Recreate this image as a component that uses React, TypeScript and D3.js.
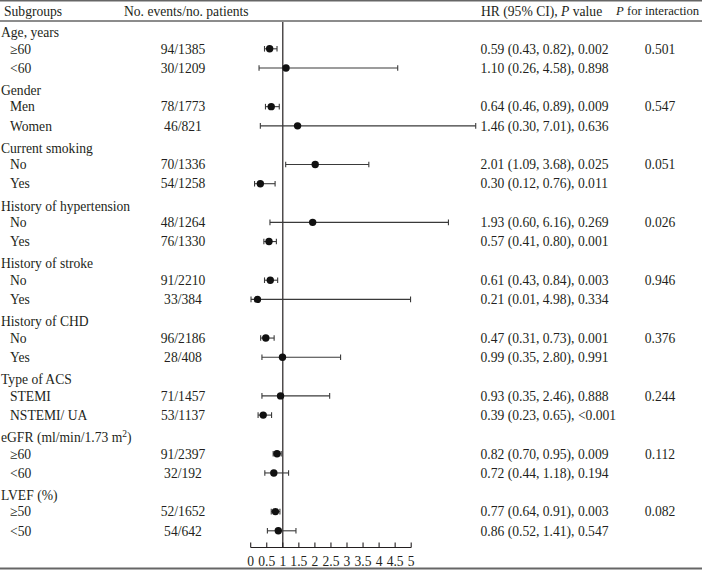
import React from "react";
import * as d3 from "d3";

const groups = [
  "Age, years",
  "Gender",
  "Current smoking",
  "History of hypertension",
  "History of stroke",
  "History of CHD",
  "Type of ACS",
  "eGFR",
  "LVEF (%)",
];
const subLabels = [
  ["≥60", "<60"],
  ["Men", "Women"],
  ["No", "Yes"],
  ["No", "Yes"],
  ["No", "Yes"],
  ["No", "Yes"],
  ["STEMI", "NSTEMI/ UA"],
  ["≥60", "<60"],
  ["≥50", "<50"],
];
const events = [
  ["94/1385", "30/1209"],
  ["78/1773", "46/821"],
  ["70/1336", "54/1258"],
  ["48/1264", "76/1330"],
  ["91/2210", "33/384"],
  ["96/2186", "28/408"],
  ["71/1457", "53/1137"],
  ["91/2397", "32/192"],
  ["52/1652", "54/642"],
];
const hr = [
  [0.59, 1.1],
  [0.64, 1.46],
  [2.01, 0.3],
  [1.93, 0.57],
  [0.61, 0.21],
  [0.47, 0.99],
  [0.93, 0.39],
  [0.82, 0.72],
  [0.77, 0.86],
];
const lower = [
  [0.43, 0.26],
  [0.46, 0.3],
  [1.09, 0.12],
  [0.6, 0.41],
  [0.43, 0.01],
  [0.31, 0.35],
  [0.35, 0.23],
  [0.7, 0.44],
  [0.64, 0.52],
];
const upper = [
  [0.82, 4.58],
  [0.89, 7.01],
  [3.68, 0.76],
  [6.16, 0.8],
  [0.84, 4.98],
  [0.73, 2.8],
  [2.46, 0.65],
  [0.95, 1.18],
  [0.91, 1.41],
];
const pValues = [
  ["0.002", "0.898"],
  ["0.009", "0.636"],
  ["0.025", "0.011"],
  ["0.269", "0.001"],
  ["0.003", "0.334"],
  ["0.001", "0.991"],
  ["0.888", "<0.001"],
  ["0.009", "0.194"],
  ["0.003", "0.547"],
];
const pInteraction = ["0.501", "0.547", "0.051", "0.026", "0.946", "0.376", "0.244", "0.112", "0.082"];
const tickValues = [0, 0.5, 1, 1.5, 2, 2.5, 3, 3.5, 4, 4.5, 5];
const tickLabels = ["0", "0.5", "1", "1.5", "2", "2.5", "3", "3.5", "4", "4.5", "5"];

const W = 702;
const H = 570;
const FONT = "'Liberation Serif', 'Times New Roman', serif";
const FS = 13.6;
const INK = "#231f20";

export default function App() {
  const x = d3.scaleLinear().domain([0, 5]).range([250.7, 411.2]);
  const yGroup = d3.scaleLinear().domain([0, 8]).range([32.2, 495]);
  const subOffset = [16.6, 35.8];
  const fmt = d3.format(".2f");

  const axisY = 547.5;
  const refTop = 22;

  return (
    <svg
      width={W}
      height={H}
      style={{ position: "absolute", left: 0, top: 0, background: "#fff" }}
      fontFamily={FONT}
      fontSize={FS}
      fill={INK}
    >
      {/* table rules */}
      <line x1={0} x2={W} y1={0.8} y2={0.8} stroke="#666" strokeWidth={1.5} />
      <line x1={0} x2={W} y1={21} y2={21} stroke="#666" strokeWidth={1.5} />
      <line x1={0} x2={W} y1={568.5} y2={568.5} stroke="#666" strokeWidth={2} />

      {/* header */}
      <text x={4} y={11} dy="0.35em">Subgroups</text>
      <text x={124} y={11} dy="0.35em">No. events/no. patients</text>
      <text x={481} y={11} dy="0.35em">
        HR (95% CI), <tspan fontStyle="italic">P</tspan> value
      </text>
      <text x={616} y={11} dy="0.35em" fontSize={12.7}>
        <tspan fontStyle="italic">P</tspan> for interaction
      </text>

      {/* reference line at HR = 1 */}
      <line x1={x(1)} x2={x(1)} y1={refTop} y2={axisY} stroke={INK} strokeWidth={1.2} />

      {groups.map((g, gi) => {
        const gy = yGroup(gi);
        return (
          <g key={gi}>
            {g === "eGFR" ? (
              <text x={1} y={gy} dy="0.35em">
                eGFR (ml/min/1.73 m
                <tspan baselineShift="super" fontSize={FS * 0.7}>2</tspan>
                <tspan>)</tspan>
              </text>
            ) : (
              <text x={1} y={gy} dy="0.35em">{g}</text>
            )}
            {subLabels[gi].map((s, si) => {
              const y = gy + subOffset[si];
              const v = hr[gi][si];
              const lo = lower[gi][si];
              const hi = upper[gi][si];
              return (
                <g key={si}>
                  <text x={10} y={y} dy="0.35em">{s}</text>
                  <text x={183} y={y} dy="0.35em" textAnchor="middle">{events[gi][si]}</text>
                  <text x={480.5} y={y} dy="0.35em">
                    {`${fmt(v)} (${fmt(lo)}, ${fmt(hi)}), ${pValues[gi][si]}`}
                  </text>
                  {si === 0 && (
                    <text x={660} y={y} dy="0.35em" textAnchor="middle">{pInteraction[gi]}</text>
                  )}
                  <line x1={x(lo)} x2={x(hi)} y1={y} y2={y} stroke="#3a3a3a" strokeWidth={1.1} />
                  <line x1={x(lo)} x2={x(lo)} y1={y - 2.8} y2={y + 2.8} stroke="#3a3a3a" strokeWidth={1.1} />
                  <line x1={x(hi)} x2={x(hi)} y1={y - 2.8} y2={y + 2.8} stroke="#3a3a3a" strokeWidth={1.1} />
                  <circle cx={x(v)} cy={y} r={3.7} fill="#111" />
                </g>
              );
            })}
          </g>
        );
      })}

      {/* x axis */}
      <line x1={x(0)} x2={x(5)} y1={axisY} y2={axisY} stroke={INK} strokeWidth={1.1} />
      {tickValues.map((t, i) => (
        <g key={t}>
          <line x1={x(t)} x2={x(t)} y1={axisY} y2={axisY - 5} stroke={INK} strokeWidth={1.1} />
          <text x={x(t)} y={561.5} dy="0.35em" textAnchor="middle">{tickLabels[i]}</text>
        </g>
      ))}
    </svg>
  );
}
